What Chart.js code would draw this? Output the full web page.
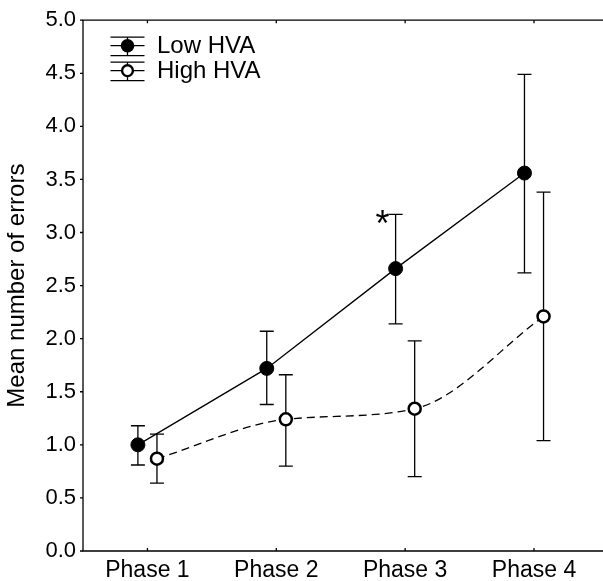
<!DOCTYPE html>
<html lang="en">
<head>
  <meta charset="UTF-8">
  <title>Mean number of errors by phase</title>
  <script src="https://cdn.jsdelivr.net/npm/chart.js"></script>
  <style>
    body { margin: 0; background: #fff; overflow: hidden; }
  </style>
</head>
<body>
  <canvas id="myChart" width="603" height="581"></canvas>
  <script>
    // values
    const categories = ['Phase 1', 'Phase 2', 'Phase 3', 'Phase 4'];
    const lowMean  = [1.00, 1.72, 2.66, 3.56];
    const lowUpper = [1.18, 2.07, 3.17, 4.49];
    const lowLower = [0.81, 1.38, 2.14, 2.62];
    const highMean  = [0.87, 1.24, 1.34, 2.21];
    const highUpper = [1.10, 1.66, 1.98, 3.38];
    const highLower = [0.64, 0.80, 0.70, 1.04];
    const seriesNames = ['Low HVA', 'High HVA'];
    const yTickStep = 0.5;
    const starPhase = 3; // significant difference marker

    const FONT = 'Liberation Sans, Arial, Helvetica, sans-serif';
    const shift = 0.074; // side-by-side offset of the two groups

    const toPoints = (vals, d) => vals.map((v, i) => ({ x: i + 1 + d, y: v }));

    const errorBars = {
      id: 'errorBars',
      beforeDatasetsDraw(chart) {
        const ctx = chart.ctx, y = chart.scales.y;
        const bounds = [[lowUpper, lowLower], [highUpper, highLower]];
        ctx.save();
        ctx.strokeStyle = '#000';
        ctx.lineWidth = 1.3;
        bounds.forEach((b, di) => {
          chart.getDatasetMeta(di).data.forEach((pt, i) => {
            const top = y.getPixelForValue(b[0][i]);
            const bot = y.getPixelForValue(b[1][i]);
            ctx.beginPath();
            ctx.moveTo(pt.x, top); ctx.lineTo(pt.x, bot);
            ctx.moveTo(pt.x - 7, top); ctx.lineTo(pt.x + 7, top);
            ctx.moveTo(pt.x - 7, bot); ctx.lineTo(pt.x + 7, bot);
            ctx.stroke();
          });
        });
        ctx.restore();
      },
      afterDraw(chart) {
        const ctx = chart.ctx, a = chart.chartArea;
        const xs = chart.scales.x, ys = chart.scales.y;
        ctx.save();
        ctx.strokeStyle = '#000';
        ctx.lineWidth = 1.3;
        // frame
        ctx.beginPath();
        ctx.moveTo(chart.width, a.top); ctx.lineTo(a.left, a.top);
        ctx.lineTo(a.left, a.bottom); ctx.lineTo(chart.width, a.bottom);
        ctx.stroke();
        // ticks
        ctx.beginPath();
        for (let v = 0; v <= 5.001; v += yTickStep) {
          const py = ys.getPixelForValue(v);
          ctx.moveTo(a.left - 3, py); ctx.lineTo(a.left, py);
        }
        categories.forEach((c, i) => {
          const px = xs.getPixelForValue(i + 1);
          ctx.moveTo(px, a.bottom); ctx.lineTo(px, a.bottom - 3);
          ctx.moveTo(px, a.top); ctx.lineTo(px, a.top + 3);
        });
        ctx.stroke();

        // asterisk
        const sx = chart.getDatasetMeta(0).data[starPhase - 1].x;
        ctx.fillStyle = '#000';
        ctx.font = '36px ' + FONT;
        ctx.textAlign = 'center';
        ctx.textBaseline = 'alphabetic';
        ctx.fillText('*', sx - 13, ys.getPixelForValue(lowUpper[starPhase - 1]) + 22);

        // legend
        const lx = 127.5, rows = [45.7, 70.7];
        ctx.textBaseline = 'middle';
        rows.forEach((cy, k) => {
          ctx.beginPath();
          ctx.moveTo(lx - 17, cy); ctx.lineTo(lx + 17, cy);
          ctx.moveTo(lx - 17, cy - 8.5); ctx.lineTo(lx + 17, cy - 8.5);
          ctx.moveTo(lx - 17, cy + 10); ctx.lineTo(lx + 17, cy + 10);
          ctx.moveTo(lx, cy - 8.5); ctx.lineTo(lx, cy + 10);
          ctx.stroke();
          ctx.beginPath();
          ctx.arc(lx, cy, k === 0 ? 6.8 : 5.4, 0, Math.PI * 2);
          if (k === 0) {
            ctx.fill();
          } else {
            ctx.fillStyle = '#fff'; ctx.fill();
            ctx.lineWidth = 2.4; ctx.stroke();
            ctx.lineWidth = 1.3; ctx.fillStyle = '#000';
          }
          ctx.font = '24px ' + FONT;
          ctx.textAlign = 'left';
          ctx.fillText(seriesNames[k], 157, cy + 1);
        });
        ctx.restore();
      }
    };

    const ctx = document.getElementById('myChart').getContext('2d');
    new Chart(ctx, {
      type: 'scatter',
      data: {
        datasets: [{
          label: seriesNames[0],
          data: toPoints(lowMean, -shift),
          showLine: true,
          borderColor: '#000',
          borderWidth: 1.3,
          pointRadius: 7,
          pointBorderWidth: 1,
          pointBackgroundColor: '#000',
          pointBorderColor: '#000',
          tension: 0
        }, {
          label: seriesNames[1],
          data: toPoints(highMean, shift),
          showLine: true,
          borderColor: '#000',
          borderWidth: 1.3,
          borderDash: [8, 5],
          cubicInterpolationMode: 'monotone',
          pointRadius: 6,
          pointBorderWidth: 2.5,
          pointBackgroundColor: '#fff',
          pointBorderColor: '#000'
        }]
      },
      options: {
        responsive: false,
        animation: false,
        layout: { padding: { top: 20, right: 0, left: 0, bottom: 0 } },
        plugins: { legend: { display: false }, tooltip: { enabled: false } },
        scales: {
          x: {
            type: 'linear',
            min: 0.5,
            max: 0.5 + 520 / 131,
            grid: { display: false, drawTicks: false },
            border: { display: false },
            afterBuildTicks: s => { s.ticks = categories.map((c, i) => ({ value: i + 1 })); },
            afterFit: s => { s.height = 30; },
            ticks: {
              padding: 6,
              color: '#000',
              font: { family: FONT, size: 23 },
              callback: v => categories[v - 1]
            }
          },
          y: {
            min: 0,
            max: 5,
            grid: { display: false, drawTicks: false },
            border: { display: false },
            afterFit: s => { s.width = 83; },
            ticks: {
              stepSize: yTickStep,
              padding: 7,
              color: '#000',
              font: { family: FONT, size: 22 },
              callback: v => v.toFixed(1)
            },
            title: {
              display: true,
              text: 'Mean number of errors',
              color: '#000',
              font: { family: FONT, size: 24 },
              padding: { top: 3, bottom: 0 }
            }
          }
        }
      },
      plugins: [errorBars]
    });
  </script>
</body>
</html>
